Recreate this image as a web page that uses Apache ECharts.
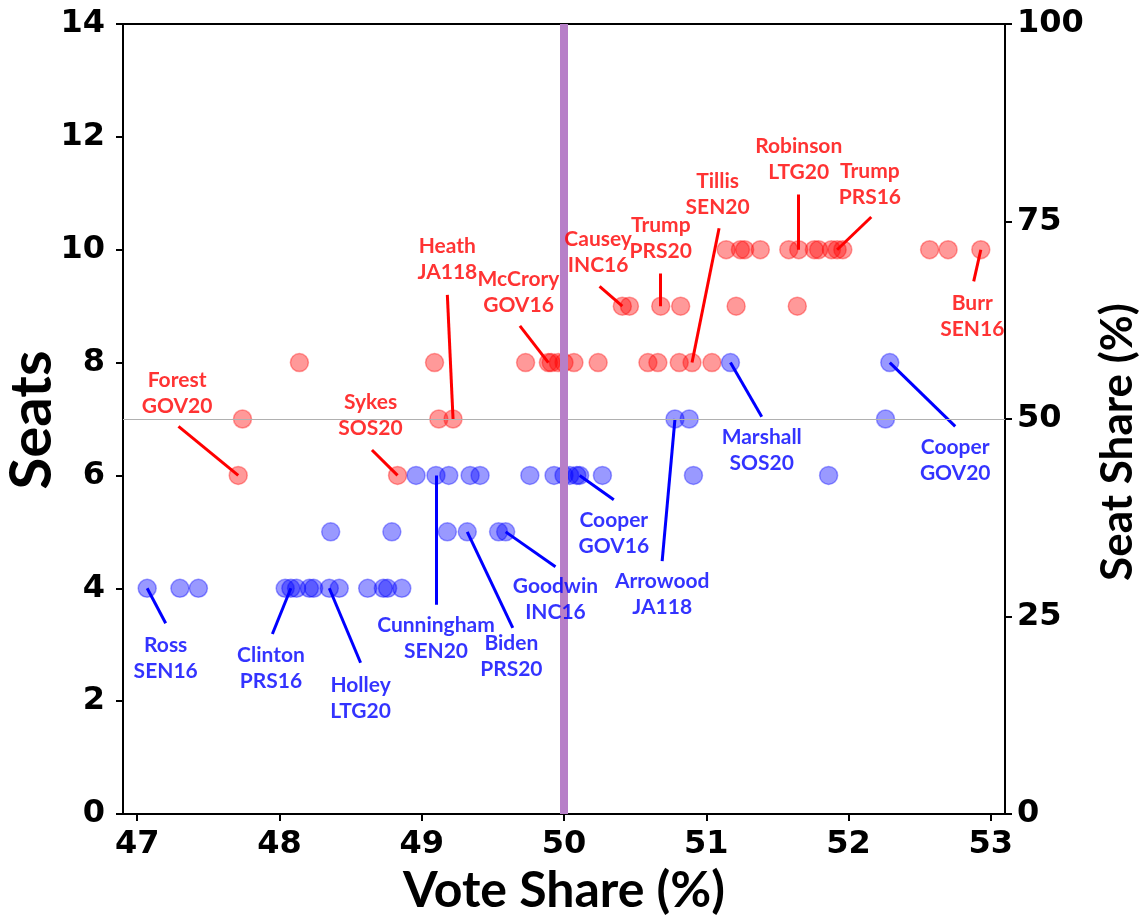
<!DOCTYPE html>
<html>
<head>
<meta charset="utf-8">
<title>Seats vs Vote Share</title>
<script src="https://cdn.jsdelivr.net/npm/echarts@6/dist/echarts.min.js"></script>
<style>
  html, body { margin: 0; padding: 0; background: #fff; }
  #chart { width: 1142px; height: 915px; }
</style>
</head>
<body>
<div id="chart"></div>
<script>
// Republican results: two-party vote share (%) and seats won out of 14
const repVote = [
  51.14, 51.24, 51.27, 51.38, 51.58, 51.65, 51.76, 51.79, 51.88, 51.92, 51.96, 52.57, 52.70, 52.93,
  50.41, 50.46, 50.68, 50.82, 51.21, 51.64,
  48.14, 49.09, 49.73, 49.89, 49.91, 49.96, 50.00, 50.07, 50.24, 50.59, 50.66, 50.81, 50.90, 51.04,
  47.74, 49.12, 49.22,
  47.71, 48.83
];
const repSeats = [
  10, 10, 10, 10, 10, 10, 10, 10, 10, 10, 10, 10, 10, 10,
  9, 9, 9, 9, 9, 9,
  8, 8, 8, 8, 8, 8, 8, 8, 8, 8, 8, 8, 8, 8,
  7, 7, 7,
  6, 6
];

// Democratic results
const demVote = [
  47.07, 47.30, 47.43, 48.04, 48.08, 48.12, 48.21, 48.24, 48.35, 48.42, 48.62, 48.73, 48.76, 48.86,
  48.36, 48.79, 49.18, 49.32, 49.54, 49.59,
  48.96, 49.10, 49.19, 49.34, 49.41, 49.76, 49.93, 50.00, 50.04, 50.09, 50.11, 50.27, 50.91, 51.86,
  50.78, 50.88, 52.26,
  51.17, 52.29
];
const demSeats = [
  4, 4, 4, 4, 4, 4, 4, 4, 4, 4, 4, 4, 4, 4,
  5, 5, 5, 5, 5, 5,
  6, 6, 6, 6, 6, 6, 6, 6, 6, 6, 6, 6, 6, 6,
  7, 7, 7,
  8, 8
];

// Axis ticks
const voteTicks = [47, 48, 49, 50, 51, 52, 53];
const seatTicks = [0, 2, 4, 6, 8, 10, 12, 14];
const shareTicks = [0, 25, 50, 75, 100];
const totalSeats = 14;

// Named contests: party, label, the result it points at
const calloutNames = [
  'Forest\nGOV20', 'Sykes\nSOS20', 'Heath\nJA118', 'McCrory\nGOV16', 'Causey\nINC16',
  'Trump\nPRS20', 'Tillis\nSEN20', 'Robinson\nLTG20', 'Trump\nPRS16', 'Burr\nSEN16',
  'Ross\nSEN16', 'Clinton\nPRS16', 'Holley\nLTG20', 'Cunningham\nSEN20', 'Biden\nPRS20',
  'Goodwin\nINC16', 'Cooper\nGOV16', 'Arrowood\nJA118', 'Marshall\nSOS20', 'Cooper\nGOV20'
];
const calloutParty = ['R','R','R','R','R','R','R','R','R','R','D','D','D','D','D','D','D','D','D','D'];
const calloutVote = [47.71, 48.83, 49.22, 49.89, 50.41, 50.68, 50.90, 51.65, 51.92, 52.93,
                     47.07, 48.08, 48.35, 49.10, 49.32, 49.59, 50.11, 50.78, 51.17, 52.29];
const calloutSeats = [6, 6, 7, 8, 9, 9, 8, 10, 10, 10,
                      4, 4, 4, 6, 5, 5, 6, 7, 8, 8];

// Where each callout's leader ends and its text sits (axis units)
const calloutLayout = [
  { end: [47.29, 6.87], text: [47.28, 7.46] },
  { end: [48.65, 6.45], text: [48.64, 7.07] },
  { end: [49.18, 9.20], text: [49.18, 9.83] },
  { end: [49.69, 8.65], text: [49.68, 9.24] },
  { end: [50.25, 9.35], text: [50.24, 9.96] },
  { end: [50.68, 9.58], text: [50.68, 10.20] },
  { end: [51.09, 10.38], text: [51.08, 10.99] },
  { end: [51.65, 10.98], text: [51.65, 11.60] },
  { end: [52.16, 10.58], text: [52.15, 11.16] },
  { end: [52.88, 9.44], text: [52.87, 8.83] },
  { end: [47.20, 3.38], text: [47.20, 2.76] },
  { end: [47.95, 3.19], text: [47.94, 2.58] },
  { end: [48.57, 2.68], text: [48.57, 2.06] },
  { end: [49.10, 3.71], text: [49.10, 3.11] },
  { end: [49.64, 3.30], text: [49.63, 2.79] },
  { end: [49.94, 4.38], text: [49.94, 3.80] },
  { end: [50.35, 5.57], text: [50.35, 4.97] },
  { end: [50.69, 4.48], text: [50.69, 3.89] },
  { end: [51.39, 7.04], text: [51.39, 6.44] },
  { end: [52.75, 6.87], text: [52.75, 6.27] }
];

const RED = '#ff0000';
const BLUE = '#0000ff';
const partyColor = p => (p === 'R' ? RED : BLUE);

const zip = (xs, ys) => xs.map((x, i) => [x, ys[i]]);

const tickFont = { fontFamily: 'DejaVu Sans', fontWeight: 'bold', fontSize: 32, color: '#000' };
const titleFont = { fontFamily: 'Lato', fontWeight: 'bold', color: '#000' };

const leaderData = calloutNames.map((n, i) => ({
  coords: [[calloutVote[i], calloutSeats[i]], calloutLayout[i].end],
  lineStyle: { color: partyColor(calloutParty[i]) }
}));

const labelData = calloutNames.map((n, i) => ({
  value: calloutLayout[i].text,
  name: n,
  label: { color: partyColor(calloutParty[i]) }
}));

const chart = echarts.init(document.getElementById('chart'), null, { renderer: 'canvas' });

chart.setOption({
  backgroundColor: '#fff',
  animation: false,
  grid: {
    left: 123, right: 137, top: 24, bottom: 101,
    outerBoundsMode: 'none', containLabel: false,
    show: true, borderColor: '#000', borderWidth: 2, backgroundColor: 'transparent'
  },
  // vertical axis titles
  graphic: [
    {
      type: 'text', x: 32, y: 420, rotation: Math.PI / 2, silent: true,
      style: {
        text: 'Seats', fontFamily: 'Lato', fontWeight: 'bold', fontSize: 58, fill: '#000',
        textAlign: 'center', textVerticalAlign: 'middle'
      }
    },
    {
      type: 'text', x: 1118, y: 442, rotation: Math.PI / 2, silent: true,
      style: {
        text: 'Seat Share (%)', fontFamily: 'Lato', fontWeight: 'bold', fontSize: 44, fill: '#000',
        textAlign: 'center', textVerticalAlign: 'middle'
      }
    }
  ],
  xAxis: {
    type: 'value', min: 46.9, max: 53.1,
    axisLine: { show: true, lineStyle: { color: '#000', width: 2 } },
    axisTick: { show: true, length: 7, customValues: voteTicks, lineStyle: { color: '#000', width: 2 } },
    axisLabel: Object.assign({ customValues: voteTicks, margin: 15 }, tickFont),
    splitLine: { show: false },
    name: 'Vote Share (%)', nameLocation: 'middle', nameGap: 48,
    nameTextStyle: Object.assign({ fontSize: 50 }, titleFont)
  },
  yAxis: [
    {
      type: 'value', position: 'left', min: 0, max: 14, interval: 2,
      axisLine: { show: true, lineStyle: { color: '#000', width: 2 } },
      axisTick: { show: true, length: 7, lineStyle: { color: '#000', width: 2 } },
      axisLabel: Object.assign({ margin: 18, customValues: seatTicks }, tickFont),
      splitLine: { show: false }
    },
    {
      type: 'value', position: 'right', min: 0, max: 100, interval: 25,
      axisLine: { show: true, lineStyle: { color: '#000', width: 2 } },
      axisTick: { show: true, length: 7, lineStyle: { color: '#000', width: 2 } },
      axisLabel: Object.assign({ margin: 12, customValues: shareTicks }, tickFont),
      splitLine: { show: false }
    }
  ],
  series: [
    {
      // reference lines: majority of seats and an even vote split
      type: 'scatter', data: [], z: 1,
      markLine: {
        silent: true, symbol: 'none', label: { show: false },
        data: [
          { yAxis: totalSeats / 2, lineStyle: { color: '#b0b0b0', width: 1, type: 'solid' } },
          { xAxis: 50, lineStyle: { color: '#b77fc8', width: 8, type: 'solid' } }
        ]
      }
    },
    {
      name: 'Republican', type: 'scatter', z: 3,
      symbol: 'circle', symbolSize: 18,
      itemStyle: { color: 'rgba(255,0,0,0.5)', borderColor: 'rgba(255,0,0,0.45)', borderWidth: 1.5 },
      data: zip(repVote, repSeats)
    },
    {
      name: 'Democratic', type: 'scatter', z: 3,
      symbol: 'circle', symbolSize: 18,
      itemStyle: { color: 'rgba(0,0,255,0.5)', borderColor: 'rgba(0,0,255,0.45)', borderWidth: 1.5 },
      data: zip(demVote, demSeats)
    },
    {
      name: 'leaders', type: 'lines', coordinateSystem: 'cartesian2d', z: 4,
      silent: true, symbol: 'none',
      lineStyle: { width: 3, opacity: 1 },
      data: leaderData
    },
    {
      name: 'callouts', type: 'scatter', z: 5, silent: true,
      symbolSize: 0,
      label: {
        show: true, position: 'inside', formatter: p => p.name,
        fontFamily: 'Lato', fontWeight: 'bold', fontSize: 21, lineHeight: 26,
        align: 'center', verticalAlign: 'middle'
      },
      data: labelData
    }
  ]
});
</script>
</body>
</html>
